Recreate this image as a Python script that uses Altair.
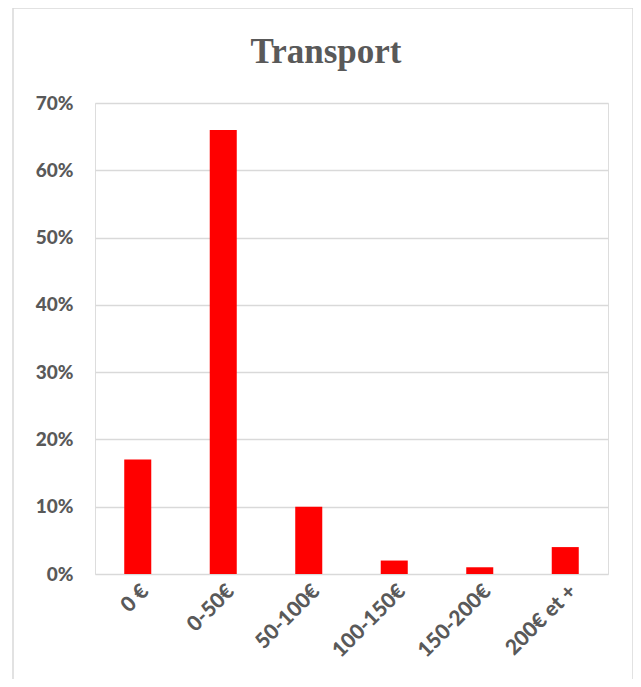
import altair as alt
import pandas as pd

categories = ["0 €", "0-50€", "50-100€", "100-150€", "150-200€", "200€ et +"]
values = [0.17, 0.66, 0.10, 0.02, 0.01, 0.04]
title_text = ["Transport"]

df = pd.DataFrame({"cat": categories, "val": values})

W, H = 513, 471

border = alt.Chart(pd.DataFrame({"a": [0]})).mark_rect(
    fillOpacity=0, stroke="#d9d9d9", strokeWidth=1.5
).encode(
    x=alt.value(-82), x2=alt.value(538), y=alt.value(-95), y2=alt.value(620)
)

title = alt.Chart(pd.DataFrame({"t": title_text})).mark_text(
    font="Liberation Serif", fontSize=35, fontWeight="bold", color="#595959",
    align="center", baseline="alphabetic"
).encode(text="t:N", x=alt.value(231), y=alt.value(-40))

bars = alt.Chart(df).mark_bar(color="#ff0000").encode(
    x=alt.X("cat:N", sort=categories, title=None,
            scale=alt.Scale(paddingInner=0.684, paddingOuter=0.342),
            axis=alt.Axis(labelAngle=-45, labelAlign="right", labelBaseline="middle",
                          labelFont="Lato", labelFontWeight=900, labelFontSize=21,
                          labelColor="#595959", ticks=False, domain=False,
                          labelPadding=14, labelOffset=8)),
    y=alt.Y("val:Q", title=None,
            scale=alt.Scale(domain=[0, 0.7], nice=False),
            axis=alt.Axis(format=".0%", values=[0, 0.1, 0.2, 0.3, 0.4, 0.5, 0.6, 0.7],
                          labelFont="Lato", labelFontWeight=900, labelFontSize=19,
                          labelColor="#595959", ticks=False, domain=False,
                          labelPadding=22, gridColor="#d9d9d9", gridWidth=1.5)),
)

chart = alt.layer(border, title, bars).properties(
    width=W, height=H,
    autosize=alt.AutoSizeParams(type="none"),
    padding={"left": 87, "top": 95, "right": 25, "bottom": 105},
).configure_view(stroke=None).configure(background="white")

chart.save("out.html", embed_options={"renderer": "svg", "actions": False})
